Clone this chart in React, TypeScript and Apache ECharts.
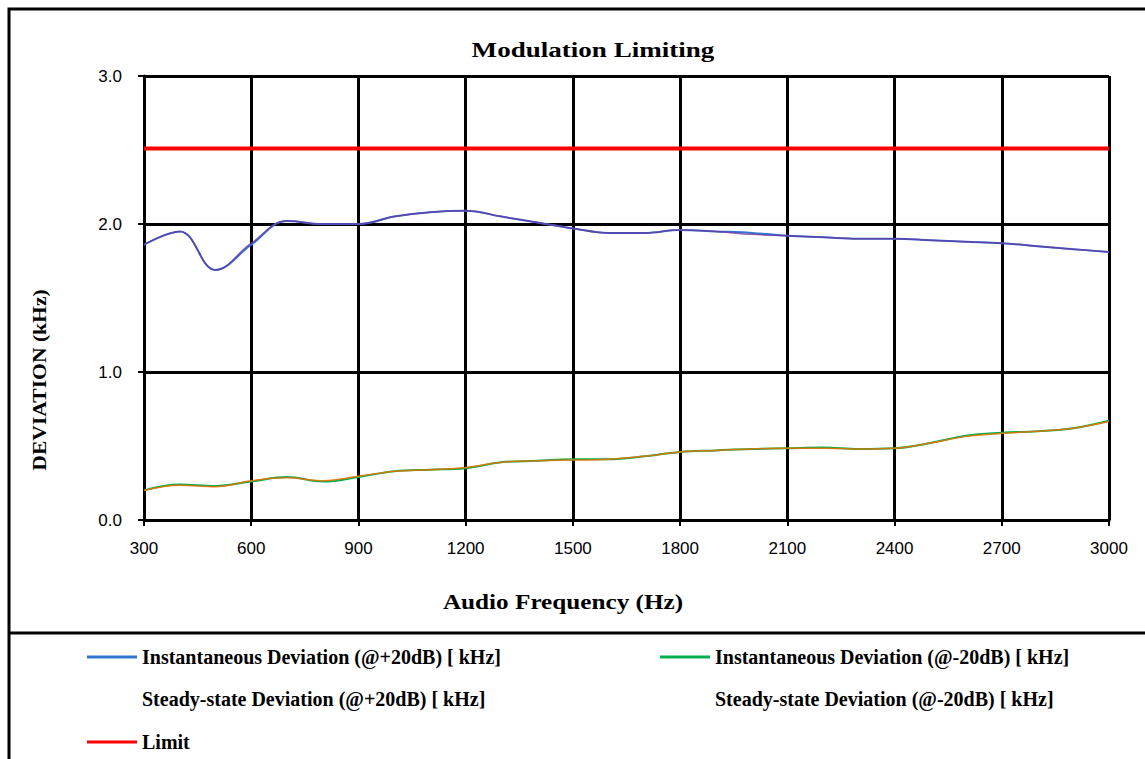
import React, { useEffect, useRef } from "react";
import * as echarts from "echarts";

const frequencies = [300, 400, 500, 600, 700, 800, 900, 1000, 1100, 1200, 1300, 1400, 1500, 1600, 1700, 1800, 1900, 2000, 2100, 2200, 2300, 2400, 2500, 2600, 2700, 2800, 2900, 3000];
const instPlus20 = [1.86, 1.95, 1.69, 1.86, 2.02, 2.0, 2.0, 2.05, 2.08, 2.09, 2.05, 2.01, 1.97, 1.94, 1.94, 1.96, 1.95, 1.94, 1.92, 1.91, 1.9, 1.9, 1.89, 1.88, 1.87, 1.85, 1.83, 1.81];
const steadyPlus20 = [1.86, 1.95, 1.69, 1.87, 2.02, 2.0, 2.0, 2.05, 2.08, 2.09, 2.05, 2.01, 1.97, 1.94, 1.94, 1.96, 1.95, 1.93, 1.92, 1.91, 1.9, 1.9, 1.89, 1.88, 1.87, 1.85, 1.83, 1.81];
const instMinus20 = [0.2, 0.24, 0.23, 0.26, 0.29, 0.26, 0.29, 0.33, 0.34, 0.35, 0.39, 0.4, 0.41, 0.41, 0.43, 0.46, 0.47, 0.48, 0.485, 0.49, 0.48, 0.485, 0.52, 0.57, 0.59, 0.6, 0.62, 0.67];
const steadyMinus20 = [0.2, 0.235, 0.225, 0.265, 0.285, 0.265, 0.295, 0.33, 0.34, 0.355, 0.39, 0.4, 0.405, 0.41, 0.43, 0.46, 0.47, 0.48, 0.485, 0.485, 0.48, 0.485, 0.52, 0.565, 0.585, 0.6, 0.62, 0.665];
const limitFreq = [300, 3000];
const limitValues = [2.51, 2.51];

const seriesNames = [
  "Instantaneous Deviation (@+20dB) [ kHz]",
  "Instantaneous Deviation (@-20dB) [ kHz]",
  "Steady-state Deviation (@+20dB) [ kHz]",
  "Steady-state Deviation (@-20dB) [ kHz]",
  "Limit",
];

const pair = (xs: number[], ys: number[]) => xs.map((x, i) => [x, ys[i]]);

export default function App() {
  const ref = useRef<HTMLDivElement>(null);
  useEffect(() => {
    if (!ref.current) return;
    const chart = echarts.init(ref.current, null, { renderer: "svg" });
    const legendText = {
      fontFamily: "Liberation Serif",
      fontWeight: "bold" as const,
      fontSize: 20,
      color: "#000",
    };
    const legendBase = {
      itemWidth: 50,
      itemHeight: 3,
      icon: "rect",
      padding: 0,
      selectedMode: false,
      textStyle: legendText,
    };
    const serif = "Liberation Serif";
    chart.setOption({
      animation: false,
      backgroundColor: "#fff",
      grid: { left: 144, right: 36, top: 76, bottom: 239, containLabel: false },
      xAxis: {
        type: "value",
        min: 300,
        max: 3000,
        interval: 300,
        axisLine: { show: true, lineStyle: { color: "#000", width: 3 } },
        axisTick: { show: true, length: 6, lineStyle: { color: "#000", width: 2 } },
        axisLabel: {
          color: "#000",
          fontFamily: "Liberation Sans",
          fontSize: 17,
          margin: 20,
          formatter: (v: number) => String(v),
        },
        splitLine: { show: true, lineStyle: { color: "#000", width: 3 } },
      },
      yAxis: {
        type: "value",
        min: 0,
        max: 3,
        interval: 1,
        axisLine: { show: true, lineStyle: { color: "#000", width: 3 } },
        axisTick: { show: true, length: 6, lineStyle: { color: "#000", width: 2 } },
        axisLabel: {
          color: "#000",
          fontFamily: "Liberation Sans",
          fontSize: 17,
          margin: 22,
          formatter: (v: number) => v.toFixed(1),
        },
        splitLine: { show: true, lineStyle: { color: "#000", width: 3 } },
      },
      legend: [
        { ...legendBase, data: [{ name: seriesNames[0] }], left: 87, top: 647 },
        { ...legendBase, data: [{ name: seriesNames[1] }], left: 660, top: 647 },
        { ...legendBase, data: [{ name: seriesNames[2], itemStyle: { opacity: 0 } }], left: 87, top: 689 },
        { ...legendBase, data: [{ name: seriesNames[3], itemStyle: { opacity: 0 } }], left: 660, top: 689 },
        { ...legendBase, data: [{ name: seriesNames[4] }], left: 87, top: 732 },
      ],
      series: [
        {
          name: seriesNames[0],
          type: "line",
          smooth: 0.4,
          showSymbol: false,
          data: pair(frequencies, instPlus20),
          itemStyle: { color: "#2E75D0" },
          lineStyle: { color: "#2E75D0", width: 2 },
        },
        {
          name: seriesNames[1],
          type: "line",
          smooth: 0.4,
          showSymbol: false,
          data: pair(frequencies, instMinus20),
          itemStyle: { color: "#00B050" },
          lineStyle: { color: "#00B050", width: 2 },
        },
        {
          name: seriesNames[2],
          type: "line",
          smooth: 0.4,
          showSymbol: false,
          data: pair(frequencies, steadyPlus20),
          itemStyle: { color: "#7030A0" },
          lineStyle: { color: "#7030A0", width: 1.5, opacity: 0.75 },
        },
        {
          name: seriesNames[3],
          type: "line",
          smooth: 0.4,
          showSymbol: false,
          data: pair(frequencies, steadyMinus20),
          itemStyle: { color: "#F07000" },
          lineStyle: { color: "#F07000", width: 1.5, opacity: 0.85 },
        },
        {
          name: seriesNames[4],
          type: "line",
          showSymbol: false,
          data: pair(limitFreq, limitValues),
          itemStyle: { color: "#FF0000" },
          lineStyle: { color: "#FF0000", width: 4 },
        },
      ],
      graphic: [
        {
          type: "polyline",
          shape: { points: [[1150, 9], [9, 9], [9, 765]] },
          style: { stroke: "#000", lineWidth: 3, fill: null },
          silent: true,
        },
        {
          type: "line",
          shape: { x1: 9, y1: 633, x2: 1150, y2: 633 },
          style: { stroke: "#000", lineWidth: 3 },
          silent: true,
        },
        {
          type: "text",
          x: 593,
          y: 49,
          scaleX: 1.23,
          style: {
            text: "Modulation Limiting",
            font: `bold 22px "${serif}"`,
            fill: "#000",
            textAlign: "center",
            textVerticalAlign: "middle",
          },
        },
        {
          type: "text",
          x: 563,
          y: 602,
          scaleX: 1.2,
          style: {
            text: "Audio Frequency (Hz)",
            font: `bold 21px "${serif}"`,
            fill: "#000",
            textAlign: "center",
            textVerticalAlign: "middle",
          },
        },
        {
          type: "text",
          x: 40,
          y: 380,
          rotation: Math.PI / 2,
          scaleX: 1.2,
          style: {
            text: "DEVIATION (kHz)",
            font: `bold 18px "${serif}"`,
            fill: "#000",
            textAlign: "center",
            textVerticalAlign: "middle",
          },
        },
      ],
    });
    return () => chart.dispose();
  }, []);
  return (
    <div
      ref={ref}
      style={{ position: "absolute", left: 0, top: 0, width: 1145, height: 759 }}
    />
  );
}
